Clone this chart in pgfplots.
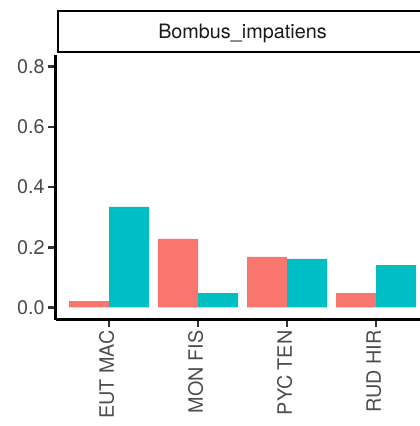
\documentclass[border=0pt]{standalone}
\usepackage{pgfplots}
\pgfplotsset{compat=1.18}
\usepackage{fontspec}
\setmainfont{TeX Gyre Heros}

\definecolor{salmon}{RGB}{248,118,109}
\definecolor{teal2}{RGB}{0,191,196}
\definecolor{gray30}{RGB}{77,77,77}
\definecolor{gray20}{RGB}{51,51,51}
\definecolor{gray10}{RGB}{26,26,26}

\begin{document}
\begin{tikzpicture}
\useasboundingbox (0pt,0pt) rectangle (420pt,426pt);
\clip (0pt,0pt) rectangle (420pt,426pt);
\begin{axis}[
  name=panel,
  at={(55.7pt,106.5pt)}, anchor=south west,
  scale only axis,
  width=373.8pt, height=264.9pt,
  xmin=0.4, xmax=4.6,
  ymin=-0.04, ymax=0.84,
  axis lines=left,
  axis line style={-, line width=2.7pt, black},
  ybar=0pt, bar width=40pt,
  xtick={1,2,3,4},
  xticklabels={EUT MAC, MON FIS, PYC TEN, RUD HIR},
  ytick={0,0.2,0.4,0.6,0.8},
  tick align=outside,
  major tick length=7.5pt,
  tick style={line width=2.7pt, color=gray20},
  font=\fontsize{19.8}{23}\selectfont,
  /pgf/number format/assume math mode=true,
  yticklabel style={text=gray30, /pgf/number format/fixed,
    /pgf/number format/fixed zerofill, /pgf/number format/precision=1},
  xticklabel style={text=gray30, rotate=90, anchor=east, text depth=5pt},
  clip=false,
]
% first group
\addplot[fill=salmon, draw=none] coordinates {(1,0.021) (2,0.228) (3,0.168) (4,0.048)};
% second group
\addplot[fill=teal2, draw=none] coordinates {(1,0.334) (2,0.048) (3,0.161) (4,0.141)};
\end{axis}
% facet strip
\draw[line width=2.7pt, black, fill=white] (58pt,374pt) rectangle (440pt,415pt);
\node[anchor=base, text=gray10, font=\fontsize{19.8}{23}\selectfont] at (242.5pt,387.7pt) {Bombus\_impatiens};
\end{tikzpicture}
\end{document}
